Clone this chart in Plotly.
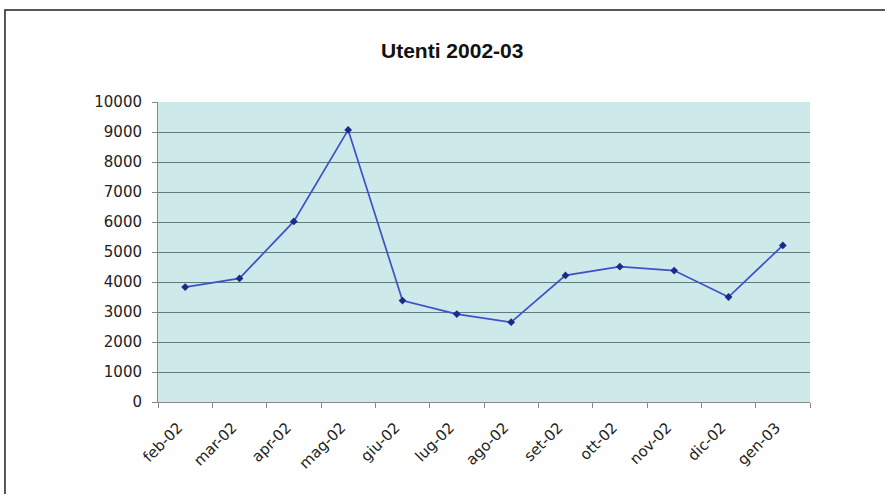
import plotly.graph_objects as go

# Monthly user counts, Feb 2002 - Jan 2003
months = ["feb-02", "mar-02", "apr-02", "mag-02", "giu-02", "lug-02",
          "ago-02", "set-02", "ott-02", "nov-02", "dic-02", "gen-03"]
utenti = [3830, 4120, 6020, 9070, 3380, 2930, 2660, 4220, 4510, 4380, 3500, 5220]

y_ticks = list(range(0, 10001, 1000))
y_tick_labels = [str(v) for v in y_ticks]

fig = go.Figure()
fig.add_trace(go.Scatter(
    x=months, y=utenti, mode="lines+markers",
    line=dict(color="#3f51c8", width=1.7),
    marker=dict(symbol="diamond", size=6, color="#1c2a8c"),
    showlegend=False,
))

label_font = "DejaVu Sans, Verdana, sans-serif"
title_font = "Liberation Sans, Arial, sans-serif"

fig.update_layout(
    width=885, height=494, autosize=False,
    margin=dict(l=158, r=75, t=102, b=92),
    paper_bgcolor="white",
    plot_bgcolor="#cde9e9",
    font=dict(family=label_font, color="#222222"),
    title=dict(
        text="<b>Utenti 2002-03</b>",
        x=0.511, xanchor="center", y=0.897, yanchor="middle",
        font=dict(size=21, family=title_font, color="#111111"),
    ),
    xaxis=dict(
        type="category", tickson="boundaries",
        ticks="outside", ticklen=5, tickcolor="#888888",
        showgrid=False, showline=True, linecolor="#888888", linewidth=1,
        tickangle=-45, tickfont=dict(size=15, color="#222222"),
        ticklabelstandoff=10, ticklabelshift=-7,
        range=[-0.5, len(months) - 0.5],
    ),
    yaxis=dict(
        range=[0, 10000], tickvals=y_ticks, ticktext=y_tick_labels,
        ticks="outside", ticklen=5, tickcolor="#888888",
        showgrid=True, gridcolor="#5f7c7c", gridwidth=1,
        showline=True, linecolor="#888888", linewidth=1,
        zeroline=False, ticklabelstandoff=7,
        tickfont=dict(size=15, color="#222222"),
    ),
    shapes=[dict(
        type="rect", xref="paper", yref="paper",
        x0=-0.2347, x1=1.3, y0=-0.5, y1=1.3067,
        line=dict(color="#222222", width=1.5), fillcolor="rgba(0,0,0,0)",
        layer="below",
    )],
)

fig.write_html("out.html")
